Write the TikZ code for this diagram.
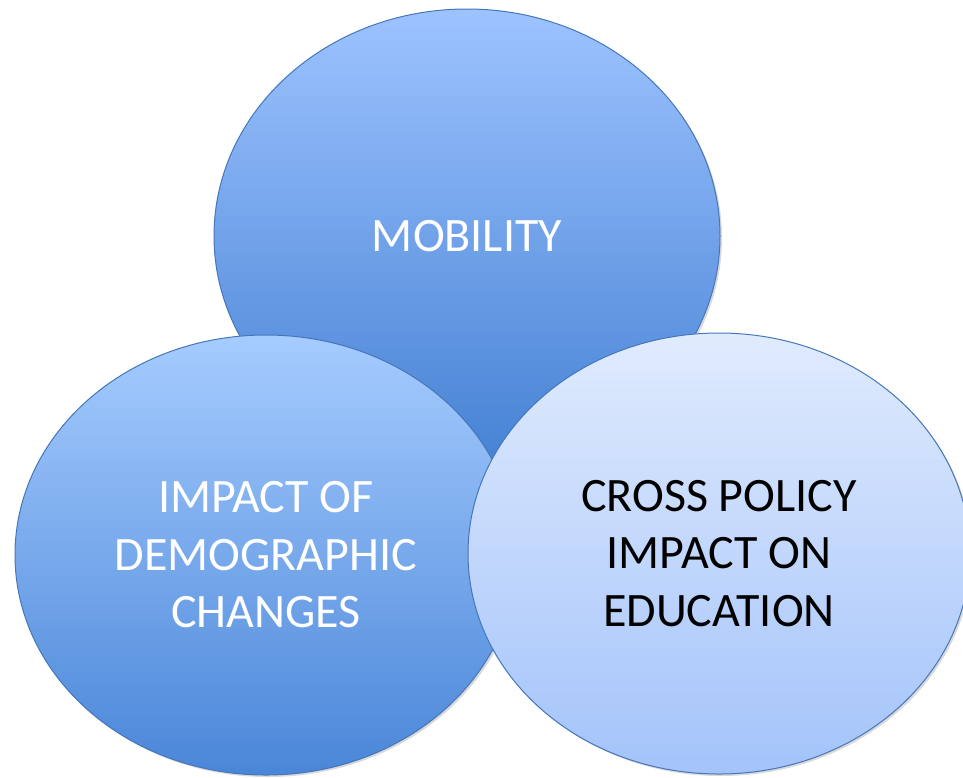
\documentclass[tikz,border=0pt]{standalone}
\usepackage{fontspec}
\setmainfont{Carlito}
\usetikzlibrary{shapes.geometric,shadows}
\definecolor{edge}{RGB}{70,118,186}
\definecolor{topA}{RGB}{157,195,255}
\definecolor{topB}{RGB}{70,130,212}
\definecolor{leftA}{RGB}{166,204,255}
\definecolor{leftB}{RGB}{74,134,216}
\definecolor{rightA}{RGB}{224,235,253}
\definecolor{rightB}{RGB}{163,195,250}
\tikzset{
  circ/.style={ellipse, inner sep=0pt, draw=edge, line width=1pt, align=center,
    font=\fontsize{48}{57.5}\selectfont,
    drop shadow={opacity=0.3, shadow xshift=2pt, shadow yshift=-2pt}},
}
\begin{document}
\begin{tikzpicture}[x=1pt,y=1pt]
\clip (0,0) rectangle (963,-777);
\useasboundingbox (0,0) rectangle (963,-777);
\node[circ, minimum width=506pt, minimum height=454pt, top color=topA, bottom color=topB, text=white]
  (mob) at (467,-236) {MOBILITY};
\node[circ, minimum width=502pt, minimum height=440pt, top color=leftA, bottom color=leftB, text=white]
  (dem) at (266,-555) {IMPACT OF\\DEMOGRAPHIC\\CHANGES};
\node[circ, minimum width=502pt, minimum height=441pt, top color=rightA, bottom color=rightB, text=black]
  (cro) at (719,-553.5) {CROSS POLICY\\IMPACT ON\\EDUCATION};
\end{tikzpicture}
\end{document}
